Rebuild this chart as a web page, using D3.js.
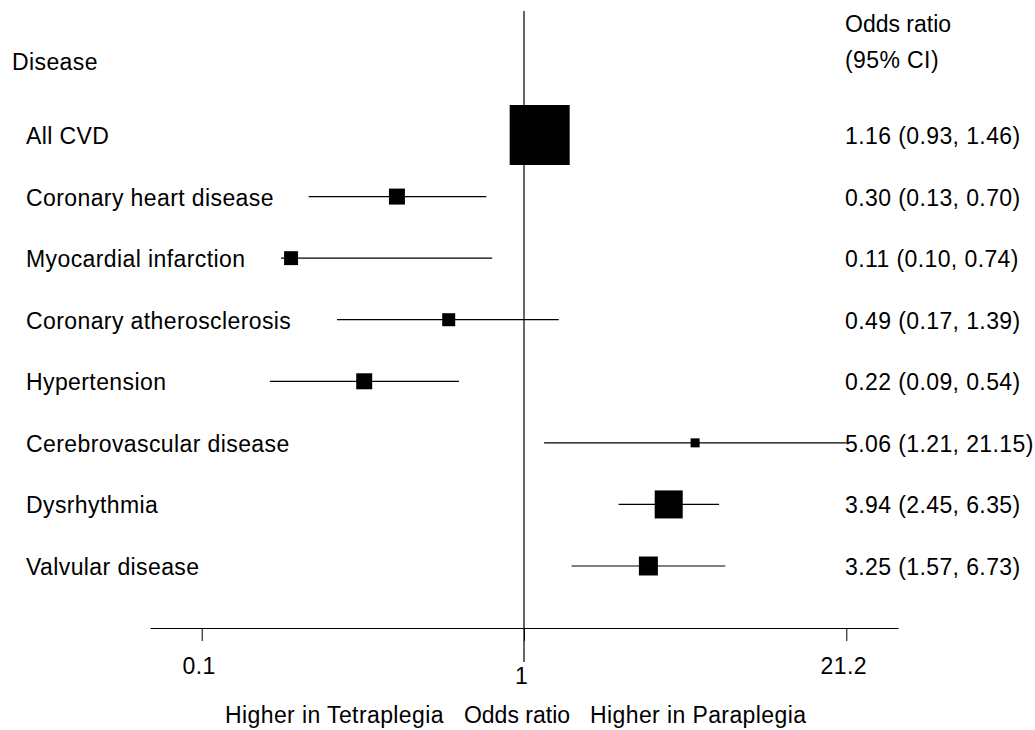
<!DOCTYPE html>
<html>
<head>
<meta charset="utf-8">
<script src="https://cdn.jsdelivr.net/npm/d3@7"></script>
<style>
  body { margin: 0; background: #fff; }
  text { font-family: "Liberation Sans", Arial, sans-serif; font-size: 23px; fill: #000; letter-spacing: 0.4px; }
</style>
</head>
<body>
<div id="chart"></div>
<script>
var diseases = ["All CVD", "Coronary heart disease", "Myocardial infarction", "Coronary atherosclerosis",
  "Hypertension", "Cerebrovascular disease", "Dysrhythmia", "Valvular disease"]
var oddsRatio = [1.16, 0.30, 0.11, 0.49, 0.22, 5.06, 3.94, 3.25]
var ciLow = [0.93, 0.13, 0.10, 0.17, 0.09, 1.21, 2.45, 1.57]
var ciHigh = [1.46, 0.70, 0.74, 1.39, 0.54, 21.15, 6.35, 6.73]
var weights = [100, 7.1, 5.4, 4.7, 7.1, 2.25, 21.8, 10]
var ciLabels = ["1.16 (0.93, 1.46)", "0.30 (0.13, 0.70)", "0.11 (0.10, 0.74)", "0.49 (0.17, 1.39)",
  "0.22 (0.09, 0.54)", "5.06 (1.21, 21.15)", "3.94 (2.45, 6.35)", "3.25 (1.57, 6.73)"]
var tickValues = [1 / 21.2, 1, 21.2]
var tickLabels = ["0.1", "1", "21.2"]

var width = 1035
var height = 730
var axisY = 628

var svg = d3.select("#chart")
  .append("svg")
  .attr("width", width)
  .attr("height", height)

// log scale, symmetric around 1
var xScale = d3.scaleLog()
  .domain([1 / 34.6, 34.6])
  .range([150, 898])

var yScale = d3.scalePoint()
  .domain(diseases)
  .range([135, 566])

var boxSize = d3.scaleSqrt()
  .domain([0, 100])
  .range([0, 60])

// headers
svg.append("text").attr("x", 12).attr("y", 70).text("Disease")
svg.append("text").attr("x", 845).attr("y", 32).style("letter-spacing", "0px").text("Odds ratio")
svg.append("text").attr("x", 845).attr("y", 68).text("(95% CI)")

// reference line at 1
svg.append("line")
  .attr("x1", xScale(1)).attr("x2", xScale(1))
  .attr("y1", 11).attr("y2", 662)
  .style("stroke", "#000")
  .style("stroke-width", 1.2)

// X axis
var xAxis = d3.axisBottom(xScale)
  .tickValues(tickValues)
  .tickSize(13)
  .tickSizeOuter(0)
  .tickPadding(4)
  .tickFormat((d, i) => tickLabels[i])

var axisG = svg.append("g")
  .attr("transform", `translate(0,${axisY})`)
  .call(xAxis)

axisG.select(".domain").style("stroke", "#000").style("stroke-width", 1.2)
axisG.selectAll(".tick line").style("stroke", "#000")
axisG.selectAll(".tick text")
  .style("font-family", '"Liberation Sans", Arial, sans-serif')
  .style("font-size", "23px")
  .attr("fill", "#000")
  .attr("dx", -3)
  .attr("y", (d, i) => i == 1 ? 40 : 30)
  .attr("dy", "0.71em")

// rows
var rows = svg.append("g")
  .selectAll("g")
  .data(diseases)
  .enter()
  .append("g")

rows.append("text")
  .attr("x", 26)
  .attr("y", d => yScale(d) + 9)
  .text(d => d)

rows.append("line")
  .attr("x1", (d, i) => xScale(ciLow[i]))
  .attr("x2", (d, i) => xScale(ciHigh[i]))
  .attr("y1", d => yScale(d))
  .attr("y2", d => yScale(d))
  .style("stroke", "#000")
  .style("stroke-width", 1.2)

rows.append("rect")
  .attr("x", (d, i) => xScale(oddsRatio[i]) - boxSize(weights[i]) / 2)
  .attr("y", (d, i) => yScale(d) - boxSize(weights[i]) / 2)
  .attr("width", (d, i) => boxSize(weights[i]))
  .attr("height", (d, i) => boxSize(weights[i]))
  .style("fill", "#000")

rows.append("text")
  .attr("x", 845)
  .attr("y", d => yScale(d) + 9)
  .text((d, i) => ciLabels[i])

// bottom caption
svg.append("text").attr("x", 225).attr("y", 723).text("Higher in Tetraplegia")
svg.append("text").attr("x", 517).attr("y", 723).attr("text-anchor", "middle").style("letter-spacing", "0px").text("Odds ratio")
svg.append("text").attr("x", 590).attr("y", 723).text("Higher in Paraplegia")
</script>
</body>
</html>
